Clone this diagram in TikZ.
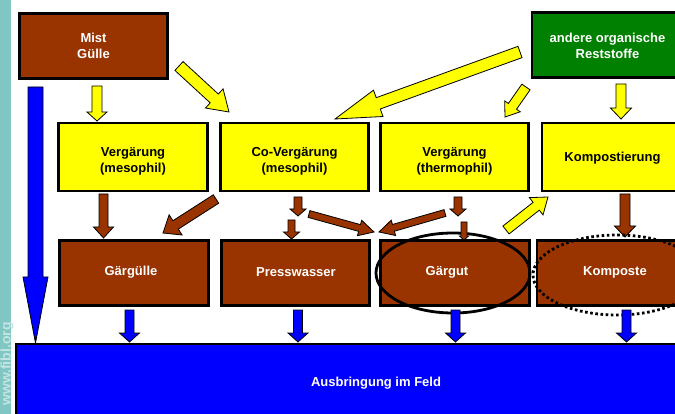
\documentclass[tikz,border=0pt]{standalone}
\usepackage{fontspec}
\setmainfont{Liberation Sans}
\usetikzlibrary{calc}
\definecolor{brn}{HTML}{993300}
\definecolor{grn}{HTML}{008000}
\definecolor{ylw}{HTML}{FFFF00}
\definecolor{blu}{HTML}{0000FF}
\definecolor{tealstrip}{HTML}{80C6C2}
\definecolor{wmark}{HTML}{C4E4E2}
\tikzset{
  box/.style={draw=black, line width=2.5pt, inner sep=0pt},
  lbl/.style={font=\fontsize{13}{16}\selectfont\bfseries, align=center, inner sep=0pt},
  wlbl/.style={lbl, text=white},
  klbl/.style={lbl, text=black},
  yarr/.style={fill=ylw, draw=black, line width=0.8pt, line join=miter},
  barr/.style={fill=brn, draw=black, line width=0.8pt, line join=miter},
  blarr/.style={fill=blu, draw=black, line width=0.8pt, line join=miter},
}
% block arrow: style, from, to, shaft half width, head half width, head length
\newcommand\blockarr[6]{%
  \path coordinate (bhtmp) at ($(#3)!#6!(#2)$);
  \filldraw[#1] ($(#2)!#4!90:(#3)$) -- ($(bhtmp)!#4!-90:(#2)$) -- ($(bhtmp)!#5!-90:(#2)$)
    -- (#3) -- ($(bhtmp)!#5!90:(#2)$) -- ($(bhtmp)!#4!90:(#2)$) -- ($(#2)!#4!-90:(#3)$) -- cycle;
}
\begin{document}
\begin{tikzpicture}[x=1pt, y=-1pt]
\useasboundingbox (0,0) rectangle (675,414);
\clip (0,0) rectangle (675,414);
\fill[white] (0,0) rectangle (675,414);
% left strip with watermark
\fill[tealstrip] (0,0) rectangle (11,414);
\node[rotate=90, anchor=base, text=wmark, font=\fontsize{14}{14}\selectfont\bfseries, inner sep=0pt] (wm) at (10.5,364) {www.fibl.org};

% top row
\node[box, fill=brn, minimum width=148, minimum height=65] (mist) at (93.5,46) {};
\node[wlbl] (mistt) at (mist.center) {Mist\\Gülle};
\node[box, fill=grn, minimum width=160, minimum height=65] (andere) at (612,45) {};
\node[wlbl] (anderet) at (607.5,46) {andere organische\\Reststoffe};

% yellow row
\node[box, fill=ylw, minimum width=149, minimum height=68] (verg1) at (133,157) {};
\node[klbl] (verg1t) at (133,161) {Vergärung\\(mesophil)};
\node[box, fill=ylw, minimum width=148, minimum height=68] (cov) at (294.5,157) {};
\node[klbl] (covt) at (294.5,161) {Co-Vergärung\\(mesophil)};
\node[box, fill=ylw, minimum width=148, minimum height=68] (verg2) at (454.5,157) {};
\node[klbl] (verg2t) at (454.5,161) {Vergärung\\(thermophil)};
\node[box, fill=ylw, minimum width=160, minimum height=68] (komp) at (622,157) {};
\node[klbl] (kompt) at (612.5,158) {Kompostierung};

% brown row
\node[box, fill=brn, minimum width=149, minimum height=65] (gguelle) at (134,273) {};
\node[wlbl] (gguellet) at (131,272) {Gärgülle};
\node[box, fill=brn, minimum width=148, minimum height=65] (press) at (295.5,273) {};
\node[wlbl] (presst) at (296,272) {Presswasser};
\node[box, fill=brn, minimum width=149, minimum height=65] (ggut) at (455,273) {};
\node[box, fill=brn, minimum width=150, minimum height=65] (kpost) at (612,273) {};

% bottom field box
\fill[black] (15,343) rectangle (740,420);
\node[fill=blu, minimum width=718, minimum height=76, inner sep=0pt] (feld) at (376,383) {};
\node[wlbl] (feldt) at (376,383) {Ausbringung im Feld};

% yellow arrows
\coordinate (ya1) at (97,86);   \coordinate (yb1) at (97,121);
\coordinate (ya2) at (179,66);  \coordinate (yb2) at (229,112);
\coordinate (ya3) at (520,52);  \coordinate (yb3) at (335,119);
\coordinate (ya4) at (526,87);  \coordinate (yb4) at (505,117);
\coordinate (ya5) at (621,84);  \coordinate (yb5) at (621,119);
\coordinate (ya6) at (506,230); \coordinate (yb6) at (548,197);
\blockarr{yarr}{ya1}{yb1}{5pt}{10pt}{9pt}
\blockarr{yarr}{ya2}{yb2}{6pt}{13pt}{20pt}
\blockarr{yarr}{ya3}{yb3}{6pt}{14pt}{46pt}
\blockarr{yarr}{ya4}{yb4}{5pt}{9.5pt}{13pt}
\blockarr{yarr}{ya5}{yb5}{5pt}{10.5pt}{11pt}
\blockarr{yarr}{ya6}{yb6}{5pt}{11pt}{15pt}

% brown arrows
\coordinate (ba1) at (103.5,194); \coordinate (bb1) at (103.5,238);
\coordinate (ba2) at (216,199);   \coordinate (bb2) at (163,233);
\coordinate (ba3) at (298,197);   \coordinate (bb3) at (298,216);
\coordinate (ba4) at (291.5,220); \coordinate (bb4) at (291.5,239);
\coordinate (ba5) at (309,214);   \coordinate (bb5) at (374,232);
\coordinate (ba6) at (445,213);   \coordinate (bb6) at (379,232);
\coordinate (ba7) at (458,197);   \coordinate (bb7) at (458,216);
\coordinate (ba8) at (464,222);   \coordinate (bb8) at (464,240);
\coordinate (ba9) at (625,194);   \coordinate (bb9) at (625,237);
\blockarr{barr}{ba1}{bb1}{4.5pt}{10pt}{11pt}
\blockarr{barr}{ba2}{bb2}{5pt}{12pt}{15pt}
\blockarr{barr}{ba3}{bb3}{4pt}{8pt}{7pt}
\blockarr{barr}{ba4}{bb4}{3.5pt}{8pt}{7pt}
\blockarr{barr}{ba5}{bb5}{3.5pt}{8pt}{15pt}
\blockarr{barr}{ba6}{bb6}{3.5pt}{8pt}{15pt}
\blockarr{barr}{ba7}{bb7}{4pt}{8pt}{7pt}
\blockarr{barr}{ba9}{bb9}{5pt}{10.5pt}{11pt}

% ellipses
\draw[line width=2.8pt] (453,273) ellipse [x radius=77, y radius=40];
\draw[line width=2.8pt, dash pattern=on 2.6pt off 2.6pt] (617,275) ellipse [x radius=84, y radius=40];
\blockarr{barr}{ba8}{bb8}{3pt}{4.5pt}{4pt}
\node[wlbl] (ggutt) at (447,272) {Gärgut};
\node[wlbl] (kpostt) at (615,272) {Komposte};

% blue arrows
\coordinate (la0) at (35.5,87);  \coordinate (lb0) at (35.5,343);
\coordinate (la1) at (129.5,310); \coordinate (lb1) at (129.5,342);
\coordinate (la2) at (298,310);   \coordinate (lb2) at (298,342);
\coordinate (la3) at (455.5,310); \coordinate (lb3) at (455.5,342);
\coordinate (la4) at (626.5,310); \coordinate (lb4) at (626.5,342);
\blockarr{blarr}{la0}{lb0}{7.5pt}{12.5pt}{66pt}
\blockarr{blarr}{la1}{lb1}{4.5pt}{10pt}{9pt}
\blockarr{blarr}{la2}{lb2}{4.5pt}{10pt}{9pt}
\blockarr{blarr}{la3}{lb3}{4.5pt}{10pt}{9pt}
\blockarr{blarr}{la4}{lb4}{4.5pt}{10pt}{9pt}
\end{tikzpicture}
\end{document}
